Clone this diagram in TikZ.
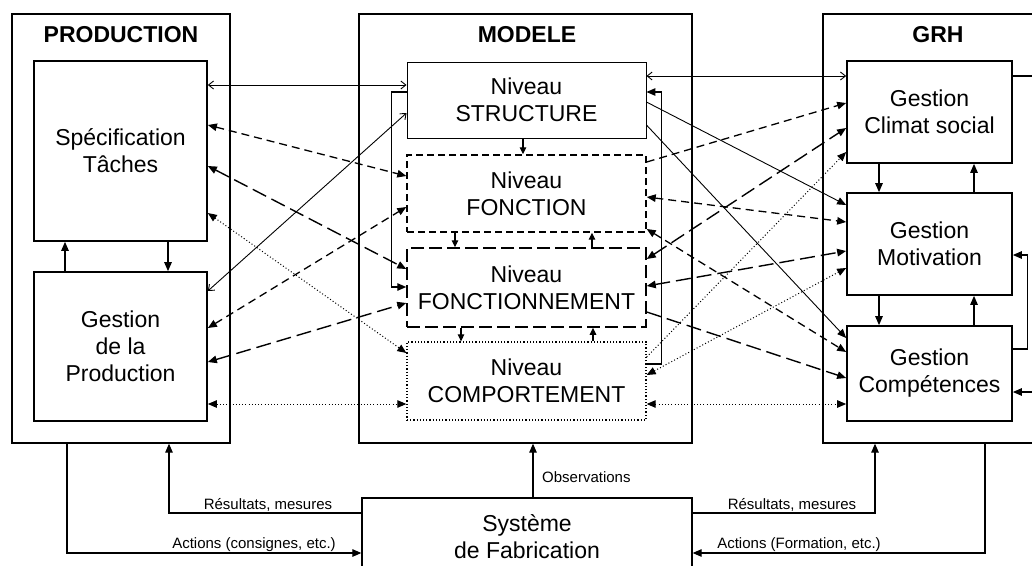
\documentclass[tikz,border=0pt]{standalone}
\usepackage{fontspec}
\setmainfont{Liberation Sans}
\usetikzlibrary{arrows.meta}
\begin{document}
\begin{tikzpicture}[x=1pt,y=-1pt,
  FA/.tip={Triangle[length=9pt,width=7.5pt]},
  SA/.tip={Triangle[length=7pt,width=6.5pt]},
  OA/.tip={Straight Barb[length=5pt,width=8pt]},
  txt/.style={font=\fontsize{23}{27}\selectfont, align=center, inner sep=0pt},
  ttl/.style={font=\fontsize{23}{27}\selectfont\bfseries, inner sep=0pt},
  lbl/.style={font=\fontsize{15}{18}\selectfont, inner sep=0pt},
  outerbox/.style={draw, line width=1.3pt, inner sep=0pt},
  innerbox/.style={draw, line width=1.7pt, txt},
  lvstruct/.style={draw, line width=0.9pt, txt},
  lvfonc/.style={draw, line width=1.4pt, dash pattern=on 7pt off 4pt, txt},
  lvfnmt/.style={draw, line width=1.5pt, dash pattern=on 13pt off 5pt, txt},
  lvcomp/.style={draw, line width=1.3pt, dash pattern=on 1.2pt off 2pt, txt},
  lnsolid/.style={line width=0.9pt},
  lnshort/.style={line width=1.3pt, dash pattern=on 8pt off 5pt},
  lnlong/.style={line width=1.4pt, dash pattern=on 15pt off 6pt},
  lndot/.style={line width=1.0pt, dash pattern=on 1pt off 2.2pt},
  link/.style={line width=1.2pt, -FA},
  lvlink/.style={line width=1.2pt, -SA},
]
\useasboundingbox (0,0) rectangle (1032,565);
\clip (0,0) rectangle (1032,565);

% outer boxes
\node[outerbox, minimum width=218pt, minimum height=429pt] (prod) at (121,228.5) {};
\node[outerbox, minimum width=333pt, minimum height=429pt] (model) at (525.5,228.5) {};
\node[outerbox, minimum width=230pt, minimum height=429pt] (grh) at (938,228.5) {};
\node[ttl] (prodt) at (121,35) {PRODUCTION};
\node[ttl] (modelt) at (527,35) {MODELE};
\node[ttl] (grht) at (938,35) {GRH};

% production boxes
\node[innerbox, minimum width=173pt, minimum height=180pt] (spec) at (120.5,151) {Spécification\\Tâches};
\node[innerbox, minimum width=173pt, minimum height=149pt] (gprod) at (120.5,346.5) {Gestion\\de la\\Production};

% model levels
\node[lvstruct, minimum width=239pt, minimum height=76pt] (struct) at (526.5,100) {Niveau\\STRUCTURE};
\node[lvfonc, minimum width=239pt, minimum height=77pt] (fonc) at (526.5,193.5) {Niveau\\FONCTION};
\node[lvfnmt, minimum width=239pt, minimum height=79pt] (fnmt) at (526.5,287.5) {Niveau\\FONCTIONNEMENT};
\node[lvcomp, minimum width=239pt, minimum height=78pt] (comp) at (526.5,381) {Niveau\\COMPORTEMENT};

% GRH boxes
\node[innerbox, minimum width=165pt, minimum height=102pt] (climat) at (929.5,112) {Gestion\\Climat social};
\node[innerbox, minimum width=165pt, minimum height=102pt] (motiv) at (929.5,244) {Gestion\\Motivation};
\node[innerbox, minimum width=165pt, minimum height=95pt] (compet) at (929.5,373.5) {Gestion\\Compétences};

% fabrication
\node[outerbox, txt, minimum width=330pt, minimum height=77pt] (sysfab) at (527,536.5) {Système\\de Fabrication};

% production internal
\draw[link] (gprod.north -| 65,0) -- (spec.south -| 65,0);
\draw[link] (spec.south -| 168,0) -- (gprod.north -| 168,0);

% model internal
\draw[lvlink] (struct.south -| 523,0) -- (fonc.north -| 523,0);
\draw[lvlink] (fonc.south -| 455,0) -- (fnmt.north -| 455,0);
\draw[lvlink] (fnmt.north -| 592,0) -- (fonc.south -| 592,0);
\draw[lvlink] (fnmt.south -| 461,0) -- (comp.north -| 461,0);
\draw[lvlink] (comp.north -| 593,0) -- (fnmt.south -| 593,0);
\draw[link, line width=1.3pt] (struct.west |- 0,92) -- ++(-15,0) |- (fnmt.west |- 0,287);
\draw[link, line width=1.3pt] (comp.east |- 0,364) -- ++(15,0) |- (struct.east |- 0,92);

% GRH internal
\draw[link] (climat.south -| 879,0) -- (motiv.north -| 879,0);
\draw[link] (motiv.north -| 974,0) -- (climat.south -| 974,0);
\draw[link] (motiv.south -| 879,0) -- (compet.north -| 879,0);
\draw[link] (compet.north -| 974,0) -- (motiv.south -| 974,0);
\draw[link] (compet.east |- 0,349) -- ++(15,0) |- (motiv.east |- 0,255);
\draw[link] (grh.east |- 0,392) -- (compet.east |- 0,392);
\draw[line width=1.2pt] (climat.east |- 0,76) -- (grh.east |- 0,76);

% production <-> model
\draw[lnsolid, OA-OA] (spec.east |- 0,85) -- (struct.west |- 0,85);
\draw[lnshort, FA-FA] (spec.east |- 0,125) -- (fonc.west |- 0,176);
\draw[lnlong, FA-FA] (spec.east |- 0,166) -- (fnmt.west |- 0,269);
\draw[lndot, FA-FA] (spec.east |- 0,213) -- (comp.west |- 0,353);
\draw[lnsolid, OA-OA] (gprod.east |- 0,291) -- (struct.west |- 0,113);
\draw[lnshort, FA-FA] (gprod.east |- 0,328) -- (fonc.west |- 0,207);
\draw[lnlong, FA-FA] (gprod.east |- 0,362) -- (fnmt.west |- 0,303);
\draw[lndot, FA-FA] (gprod.east |- 0,404) -- (comp.west |- 0,404);

% model <-> GRH
\draw[lnsolid, OA-OA] (struct.east |- 0,76) -- (climat.west |- 0,76);
\draw[lnsolid, -FA] (struct.east |- 0,102) -- (motiv.west |- 0,205);
\draw[lnsolid, -FA] (struct.east |- 0,125) -- (compet.west |- 0,338);
\draw[lnshort, -FA] (fonc.east |- 0,162) -- (climat.west |- 0,103);
\draw[lnshort, FA-FA] (fonc.east |- 0,197) -- (motiv.west |- 0,222);
\draw[lnshort, FA-FA] (fonc.east |- 0,229) -- (compet.west |- 0,352);
\draw[lnlong, FA-FA] (fnmt.east |- 0,259) -- (climat.west |- 0,128);
\draw[lnlong, FA-FA] (fnmt.east |- 0,286) -- (motiv.west |- 0,251);
\draw[lnlong, -FA] (fnmt.east |- 0,312) -- (compet.west |- 0,378);
\draw[lndot, -FA] (comp.east |- 0,357) -- (climat.west |- 0,152);
\draw[lndot, FA-FA] (comp.east |- 0,375) -- (motiv.west |- 0,268);
\draw[lndot, FA-FA] (comp.east |- 0,404) -- (compet.west |- 0,404);

% bottom connections
\draw[link] (prod.south -| 67,0) |- (sysfab.west |- 0,553);
\draw[link] (sysfab.west |- 0,513) -| (prod.south -| 169,0);
\draw[link] (sysfab.north -| 533,0) -- (model.south -| 533,0);
\draw[link] (sysfab.east |- 0,513) -| (grh.south -| 875,0);
\draw[link] (grh.south -| 985,0) |- (sysfab.east |- 0,553);

\node[lbl] (l1) at (268,505) {Résultats, mesures};
\node[lbl] (l2) at (254,545) {Actions (consignes, etc.)};
\node[lbl, anchor=west] (l3) at (542,477) {Observations};
\node[lbl] (l4) at (792,505) {Résultats, mesures};
\node[lbl] (l5) at (799,545) {Actions (Formation, etc.)};
\end{tikzpicture}
\end{document}
